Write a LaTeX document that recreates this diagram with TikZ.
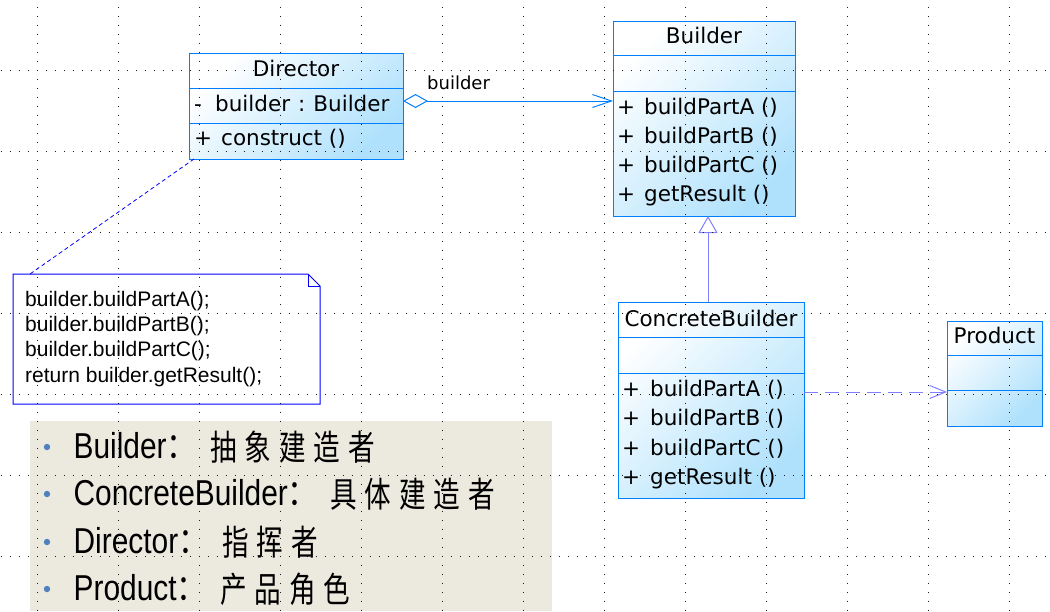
\documentclass[tikz,border=0pt]{standalone}
\usepackage{fontspec}
\setmainfont{DejaVu Sans}
\newfontfamily\notefont{Liberation Sans}
\newfontfamily\panelfont{Liberation Sans}
\newfontfamily\cjk{Noto Sans CJK SC}
\usetikzlibrary{arrows.meta,calc}
\definecolor{boxborder}{RGB}{0,128,255}
\definecolor{boxfill}{RGB}{175,225,252}
\definecolor{lav}{RGB}{128,128,255}
\definecolor{noteblue}{RGB}{0,0,255}
\definecolor{panelbg}{RGB}{236,233,223}
\definecolor{bulletc}{RGB}{79,129,189}
\definecolor{griddot}{RGB}{30,30,30}
\begin{document}
\begin{tikzpicture}[x=1pt,y=-1pt,
  umlbox/.style={draw=boxborder,line width=1pt,left color=white,right color=boxfill,shading angle=45,inner sep=0,outer sep=0},
  sepline/.style={draw=boxborder,line width=1pt},
  umltitle/.style={font=\fontsize{21.5}{25}\selectfont,inner sep=0,anchor=base},
  umlmember/.style={font=\fontsize{21.5}{25}\selectfont,inner sep=0,anchor=base west},
  rolelabel/.style={font=\fontsize{18}{22}\selectfont,inner sep=0,anchor=base west},
  aggline/.style={draw=boxborder,line width=1pt,{Diamond[length=25pt,width=14pt,fill=white]}-{Straight Barb[length=19pt,width=13pt]}},
  inhline/.style={draw=lav,line width=1pt,-{Triangle[length=17pt,width=19pt,fill=white]}},
  depline/.style={draw=lav,line width=1pt,dash pattern=on 14pt off 7pt,-{Straight Barb[length=16pt,width=13pt]}},
  notelink/.style={draw=noteblue,line width=0.8pt,dash pattern=on 4pt off 3pt},
  noteline/.style={draw=noteblue,line width=1pt},
  notetext/.style={font=\notefont\fontsize{21}{25}\selectfont,inner sep=0,anchor=base west},
  gridline/.style={draw=griddot,line width=0.9pt,dash pattern=on 0.9pt off 8.1pt},
  paneltext/.style={font=\panelfont\fontsize{36}{40}\selectfont,xscale=0.83,inner sep=0,anchor=base west},
  panelcjk/.style={font=\cjk\fontsize{35}{38}\selectfont,xscale=0.76,inner sep=0,anchor=base west},
  bulletdot/.style={fill=bulletc}
]
\fill[white] (0,0) rectangle (1050,611);
\useasboundingbox (0,0) rectangle (1050,611);

% panel background
\fill[panelbg] (30,421) rectangle (552,611);

% class boxes
\node[umlbox,minimum width=214pt,minimum height=106pt] (director) at (296,106) {};
\node[umlbox,minimum width=182pt,minimum height=195pt] (builder) at (704,118.5) {};
\node[umlbox,minimum width=186pt,minimum height=196pt] (cbuilder) at (711,400) {};
\node[umlbox,minimum width=95pt,minimum height=105pt] (product) at (994.5,373.5) {};

\draw[sepline] (director.west |- 0,88) -- (director.east |- 0,88);
\draw[sepline] (director.west |- 0,123) -- (director.east |- 0,123);
\draw[sepline] (builder.west |- 0,55) -- (builder.east |- 0,55);
\draw[sepline] (builder.west |- 0,91) -- (builder.east |- 0,91);
\draw[sepline] (cbuilder.west |- 0,337) -- (cbuilder.east |- 0,337);
\draw[sepline] (cbuilder.west |- 0,373) -- (cbuilder.east |- 0,373);
\draw[sepline] (product.west |- 0,355) -- (product.east |- 0,355);
\draw[sepline] (product.west |- 0,390) -- (product.east |- 0,390);

% note
\node[inner sep=0,outer sep=0,minimum width=307pt,minimum height=130pt] (note) at (166.5,339) {};
\draw[noteline,fill=white] (note.north west) -- ($(note.north east)+(-12,0)$) -- ($(note.north east)+(0,12)$) -- (note.south east) -- (note.south west) -- cycle;
\draw[noteline] ($(note.north east)+(-12,0)$) -- ($(note.north east)+(-12,12)$) -- ($(note.north east)+(0,12)$);

% connectors
\draw[aggline] (director.east |- 0,101) -- (builder.west |- 0,101);
\draw[inhline] (cbuilder.north -| 708,0) -- (builder.south -| 708,0);
\draw[depline] (cbuilder.east |- 0,392) -- (product.west |- 0,392);
\draw[notelink] ($(director.south west)+(5,0)$) -- (note.north west -| 30,0);

% grid of dots
\foreach \gx in {37,118,...,1009} \draw[gridline] (\gx,6.55) -- (\gx,611);
\foreach \gy in {70,151,...,556} \draw[gridline] (0.55,\gy) -- (1050,\gy);

% texts in boxes
\node[umltitle] (tdirector) at (296,76) {Director};
\node[umlmember] (md1) at (194,111) {\makebox[21pt][l]{-}builder\hspace{8pt}:\hspace{8pt}Builder};
\node[umlmember] (md2) at (194,145) {\makebox[27pt][l]{+}construct ()};

\node[umltitle] (tbuilder) at (704,43) {Builder};
\node[umlmember] (mb1) at (617,114) {\makebox[27pt][l]{+}buildPartA ()};
\node[umlmember] (mb2) at (617,143) {\makebox[27pt][l]{+}buildPartB ()};
\node[umlmember] (mb3) at (617,172) {\makebox[27pt][l]{+}buildPartC ()};
\node[umlmember] (mb4) at (617,201) {\makebox[27pt][l]{+}getResult ()};

\node[umltitle] (tcbuilder) at (711,326) {ConcreteBuilder};
\node[umlmember] (mc1) at (622,396) {\makebox[28pt][l]{+}buildPartA ()};
\node[umlmember] (mc2) at (622,425) {\makebox[28pt][l]{+}buildPartB ()};
\node[umlmember] (mc3) at (622,455) {\makebox[28pt][l]{+}buildPartC ()};
\node[umlmember] (mc4) at (622,484) {\makebox[28pt][l]{+}getResult ()};

\node[umltitle] (tproduct) at (994.5,343) {Product};

\node[rolelabel] (lbuilder) at (427,89) {builder};

% note text
\node[notetext] (n1) at (25,306) {builder.buildPartA();};
\node[notetext] (n2) at (25,331.3) {builder.buildPartB();};
\node[notetext] (n3) at (25,356.6) {builder.buildPartC();};
\node[notetext] (n4) at (25,382) {return builder.getResult();};

% panel text
\fill[bulletdot] (47,447) circle (3.2);
\fill[bulletdot] (47,494) circle (3.2);
\fill[bulletdot] (47,542) circle (3.2);
\fill[bulletdot] (47,589) circle (3.2);
\node[paneltext] (p1) at (73.5,458) {Builder{\cjk ：}};
\node[paneltext] (p2) at (73.5,505) {ConcreteBuilder{\cjk ：}};
\node[paneltext] (p3) at (73.5,553) {Director{\cjk ：}};
\node[paneltext] (p4) at (73.5,600) {Product{\cjk ：}};
\node[panelcjk] (c1) at (210,460) {抽\hspace{10.5pt}象\hspace{10.5pt}建\hspace{10.5pt}造\hspace{10.5pt}者};
\node[panelcjk] (c2) at (330,507) {具\hspace{10.5pt}体\hspace{10.5pt}建\hspace{10.5pt}造\hspace{10.5pt}者};
\node[panelcjk] (c3) at (222,555) {指\hspace{10.5pt}挥\hspace{10.5pt}者};
\node[panelcjk] (c4) at (220,602) {产\hspace{10.5pt}品\hspace{10.5pt}角\hspace{10.5pt}色};
\end{tikzpicture}
\end{document}
